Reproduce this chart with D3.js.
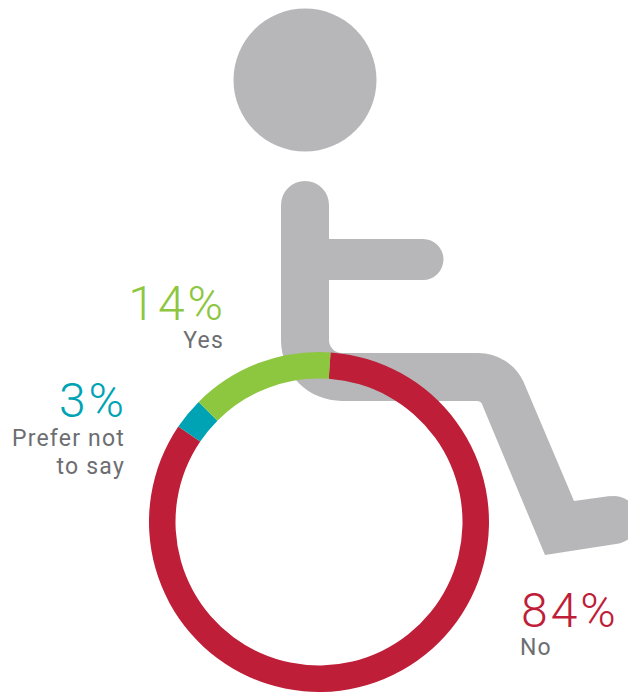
<html>
<head>
  <meta charset="utf-8">
  <style>
    html, body { margin:0; padding:0; background:#fff; }
    svg { display:block; }
    text { font-family:Roboto, sans-serif; }
  </style>
  <script src="https://d3js.org/d3.v7.min.js"></script>
</head>
<body>
  <svg id="chart" width="628" height="693"></svg>
  <script>
    var categories = ["No", "Prefer not to say", "Yes"];
    var percents = [84, 3, 14];
    // the printed percents add up to 101, these are the shares the ring really shows
    var shares = [83.4, 3, 13.6];
    var colors = ["#be1e37", "#00a3b4", "#8dc63f"];
    var gray = "#b7b7b9", labelGray = "#6d6e71";

    var svg = d3.select("#chart");

    // wheelchair figure behind the ring
    svg.append("circle").attr("cx", 305).attr("cy", 80).attr("r", 71.5).attr("fill", gray);

    var p = d3.path();
    p.moveTo(281, 205);
    p.arc(305, 205, 24, Math.PI, 0);
    p.lineTo(329, 239);
    p.lineTo(423, 239);
    p.arc(423, 259.5, 20.5, -Math.PI / 2, Math.PI / 2);
    p.lineTo(329, 280);
    p.arcTo(329, 353, 400, 353, 13);
    p.arcTo(510, 353, 525, 385, 50);
    p.lineTo(574, 501);
    p.lineTo(610, 496);
    p.arc(614, 520, 24, -Math.PI / 2 - 0.15, Math.PI / 2 - 0.15);
    p.lineTo(545, 555);
    p.lineTo(484, 409);
    p.arcTo(481, 401, 470, 401, 6);
    p.arcTo(281, 401, 281, 300, 61);
    p.closePath();
    svg.append("path").attr("d", p.toString()).attr("fill", gray);

    // ring: starts just past 12 o'clock and runs clockwise
    var start = 3.9 * Math.PI / 180;
    var pie = d3.pie().sort(null).startAngle(start).endAngle(start + 2 * Math.PI);
    var arc = d3.arc().innerRadius(143.5).outerRadius(170);

    svg.append("g").attr("transform", "translate(319,522)")
      .selectAll("path").data(pie(shares)).enter()
      .append("path").attr("d", arc).attr("fill", (d, i) => colors[i]);

    function pct(x, y, i, anchor) {
      svg.append("text").attr("x", x).attr("y", y).attr("text-anchor", anchor)
        .attr("font-size", 48).attr("font-weight", 300).attr("letter-spacing", 3)
        .attr("fill", colors[i])
        .text(percents[i] + "%");
    }
    function label(x, y, s, anchor) {
      svg.append("text").attr("x", x).attr("y", y).attr("text-anchor", anchor)
        .attr("font-size", 23).attr("letter-spacing", 1.2).attr("fill", labelGray)
        .text(s);
    }

    pct(226, 320, 2, "end");
    label(224, 348, categories[2], "end");

    pct(127, 417, 1, "end");
    label(125, 446, "Prefer not", "end");
    label(125, 474, "to say", "end");

    pct(521, 627, 0, "start");
    label(520, 655, categories[0], "start");
  </script>
</body>
</html>
